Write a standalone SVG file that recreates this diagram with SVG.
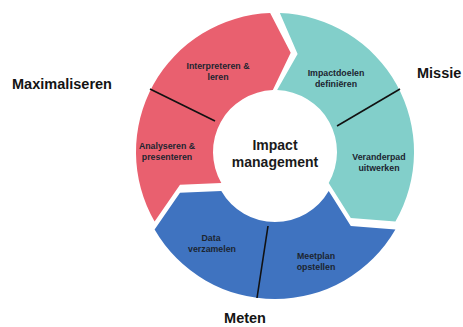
<svg xmlns="http://www.w3.org/2000/svg" width="463" height="327" viewBox="0 0 463 327">
<style>
.seg-lbl{font-family:"Liberation Sans",Arial,sans-serif;font-weight:bold;font-size:8.8px;fill:#1c2530;text-anchor:middle}
.outer-lbl{font-family:"Liberation Sans",Arial,sans-serif;font-weight:bold;font-size:14.5px;fill:#141414}
.center-lbl{font-family:"Liberation Sans",Arial,sans-serif;font-weight:bold;font-size:14px;fill:#1a1a1a;text-anchor:middle}
.div{stroke:#111;stroke-width:1.6;fill:none}
</style>
<rect width="463" height="327" fill="#fff"/>
<g id="pink">
<path d="M154.6,221.5 A139,139 0 0 1 270.15,13.1 L290.7,52.7 L272.84,90.04 A62,62 0 0 0 221.3,183 L180,184.7 Z" fill="#E9606F"/>
<text class="seg-lbl" x="218" y="69">Interpreteren &amp;</text>
<text class="seg-lbl" x="218" y="80">leren</text>
<text class="seg-lbl" x="167" y="149">Analyseren &amp;</text>
<text class="seg-lbl" x="167" y="160">presenteren</text>
</g>
<g id="teal">
<path d="M279.85,13.1 A139,139 0 0 1 395.4,221.5 L350.8,217.9 L328.7,183 A62,62 0 0 0 277.16,90.04 L297.6,54.1 Z" fill="#82CFCA"/>
<text class="seg-lbl" x="336" y="76">Impactdoelen</text>
<text class="seg-lbl" x="336" y="87">definiëren</text>
<text class="seg-lbl" x="379" y="160">Veranderpad</text>
<text class="seg-lbl" x="379" y="171">uitwerken</text>
</g>
<g id="blue">
<path d="M395.4,229.5 A139,139 0 0 1 154.6,229.5 L180,192.7 L221.3,191 A62,62 0 0 0 328.7,191 L350.8,225.9 Z" fill="#3F73C0"/>
<text class="seg-lbl" x="211" y="241">Data</text>
<text class="seg-lbl" x="212" y="252">verzamelen</text>
<text class="seg-lbl" x="316" y="259">Meetplan</text>
<text class="seg-lbl" x="316" y="270">opstellen</text>
</g>
<g id="connectors">
<line class="div" x1="150" y1="89" x2="215" y2="121"/>
<line class="div" x1="400" y1="89" x2="337" y2="126"/>
<line class="div" x1="268" y1="226" x2="257" y2="298"/>
</g>
<g id="center">
<text class="center-lbl" x="275" y="150">Impact</text>
<text class="center-lbl" x="275" y="167">management</text>
</g>
<g id="labels">
<text id="maximaliseren" class="outer-lbl" x="12" y="89">Maximaliseren</text>
<text id="missie" class="outer-lbl" x="417" y="78">Missie</text>
<text id="meten" class="outer-lbl" x="245" y="323" text-anchor="middle">Meten</text>
</g>
</svg>
